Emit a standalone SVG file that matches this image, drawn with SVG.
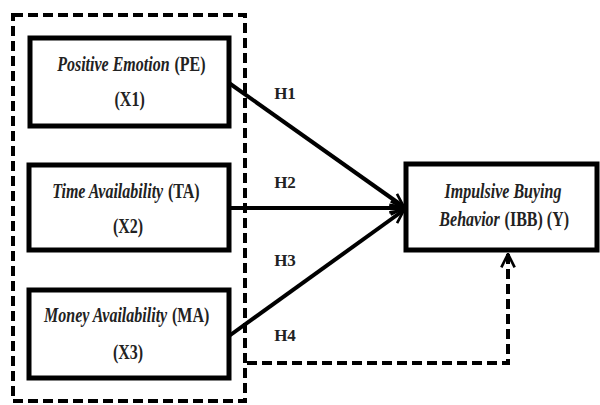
<svg xmlns="http://www.w3.org/2000/svg" width="600" height="405" viewBox="0 0 600 405">
<style>
.box{fill:#fff;stroke:#000;stroke-width:5}
.t{font-family:"Liberation Serif","Times New Roman",serif;font-size:20px;font-weight:bold;fill:#222}
.m{text-anchor:middle}
.e{text-anchor:end}
.i{font-style:italic}
.h{font-family:"Liberation Serif","Times New Roman",serif;font-size:17px;font-weight:bold;fill:#222;text-anchor:middle}
.c{fill:none;stroke:#000;stroke-width:4}
.d{fill:none;stroke:#000;stroke-width:4;stroke-dasharray:10 5}
</style>
<defs>
<marker id="ah" viewBox="0 0 12 12" refX="11" refY="6" markerWidth="4" markerHeight="4" orient="auto" markerUnits="strokeWidth">
<path d="M1,1 L11,6 L1,11" fill="none" stroke="#000" stroke-width="2"/>
</marker>
</defs>
<rect x="13" y="15" width="232" height="386" class="d"/>
<g id="connectors">
<line x1="229" y1="83" x2="404" y2="207" class="c" marker-end="url(#ah)"/>
<line x1="229" y1="208" x2="404" y2="208" class="c" marker-end="url(#ah)"/>
<line x1="229" y1="336" x2="404" y2="210" class="c" marker-end="url(#ah)"/>
<polyline points="247,363 508,363 508,254" class="d" marker-end="url(#ah)"/>
<text x="285" y="99" class="h">H1</text>
<text x="285" y="188" class="h">H2</text>
<text x="285" y="266" class="h">H3</text>
<text x="285" y="341" class="h">H4</text>
</g>
<g id="pe">
<rect x="30" y="38" width="199" height="88" class="box"/>
<g transform="translate(132,0) scale(0.8,1)">
<text x="47" y="71" class="t i e">Positive Emotion</text>
<text x="53" y="71" class="t">(PE)</text>
<text x="-3" y="106" class="t m">(X1)</text>
</g>
</g>
<g id="ta">
<rect x="29" y="165" width="200" height="85" class="box"/>
<g transform="translate(128,0) scale(0.8,1)">
<text x="44" y="198" class="t i e">Time Availability</text>
<text x="50" y="198" class="t">(TA)</text>
<text x="0" y="233" class="t m">(X2)</text>
</g>
</g>
<g id="ma">
<rect x="29" y="290" width="200" height="88" class="box"/>
<g transform="translate(128,0) scale(0.8,1)">
<text x="49" y="322" class="t i e">Money Availability</text>
<text x="55" y="322" class="t">(MA)</text>
<text x="0" y="359" class="t m">(X3)</text>
</g>
</g>
<g id="ibb">
<rect x="406" y="164" width="191" height="86" class="box"/>
<g transform="translate(503,0) scale(0.8,1)">
<text x="0" y="198" class="t i m">Impulsive Buying</text>
<text x="-4" y="226" class="t i e">Behavior</text>
<text x="2" y="226" class="t">(IBB) (Y)</text>
</g>
</g>
</svg>
